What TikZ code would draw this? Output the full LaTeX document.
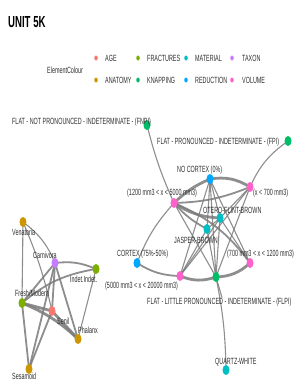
\documentclass[tikz,border=0pt]{standalone}
\usepackage{xcolor}
\usepackage{fontspec}
\newfontfamily\narrowsf[FakeStretch=0.6]{Liberation Sans}
\usepackage{tikz}
\usetikzlibrary{positioning,shapes.geometric}

\definecolor{cAge}{HTML}{F8766D}
\definecolor{cAnatomy}{HTML}{CD9600}
\definecolor{cFractures}{HTML}{7CAE00}
\definecolor{cKnapping}{HTML}{00BE67}
\definecolor{cMaterial}{HTML}{00BFC4}
\definecolor{cReduction}{HTML}{00A9FF}
\definecolor{cTaxon}{HTML}{C77CFF}
\definecolor{cVolume}{HTML}{FF61CC}
\definecolor{edgegray}{HTML}{7A7A7A}
\definecolor{labgray}{HTML}{2E2E2E}

\pgfdeclarelayer{bg}
\pgfsetlayers{bg,main}

\begin{document}
\begin{tikzpicture}[
  x=1pt, y=-1pt,
  dot/.style={ellipse, fill=#1, inner sep=0pt, minimum width=7pt, minimum height=10pt},
  key/.style={ellipse, fill=#1, inner sep=0pt, minimum width=3.5pt, minimum height=5pt},
  lab/.style={anchor=west, inner sep=0pt, text=labgray, font=\narrowsf\fontsize{9}{9}\selectfont},
  edge/.style={draw=edgegray, line width=1.1pt, opacity=0.85},
  medge/.style={draw=edgegray, line width=1.8pt, opacity=0.85},
  tedge/.style={draw=edgegray, line width=2.8pt, opacity=0.85}
]
\useasboundingbox (0,0) rectangle (305,386);

% title and legend
\node[anchor=west, inner sep=0pt, font=\narrowsf\bfseries\fontsize{16}{16}\selectfont] (title) at (8,22) {UNIT 5K};
\node[lab] (legtitle) at (47,70) {ElementColour};
\node[key=cAge] (kage) at (96,58) {};
\node[lab] (lage) at (105,58) {AGE};
\node[key=cFractures] (kfrac) at (138,58) {};
\node[lab] (lfrac) at (147,58) {FRACTURES};
\node[key=cMaterial] (kmat) at (186,58) {};
\node[lab] (lmat) at (195,58) {MATERIAL};
\node[key=cTaxon] (ktax) at (232,58) {};
\node[lab] (ltax) at (242,58) {TAXON};
\node[key=cAnatomy] (kana) at (96,80) {};
\node[lab] (lana) at (105,80) {ANATOMY};
\node[key=cKnapping] (kknap) at (138,80) {};
\node[lab] (lknap) at (147,80) {KNAPPING};
\node[key=cReduction] (kred) at (186,80) {};
\node[lab] (lred) at (195,80) {REDUCTION};
\node[key=cVolume] (kvol) at (232,80) {};
\node[lab] (lvol) at (242,80) {VOLUME};

% lithic network
\node[dot=cKnapping] (fnpi) at (147,125) {};
\node[dot=cKnapping] (fpi) at (288,141) {};
\node[dot=cReduction] (nocortex) at (210,179) {};
\node[dot=cVolume] (lt700) at (250,187) {};
\node[dot=cVolume] (v1200) at (174,203) {};
\node[dot=cMaterial] (otero) at (220,218) {};
\node[dot=cMaterial] (jasper) at (207,229) {};
\node[dot=cReduction] (cortex) at (137,263) {};
\node[dot=cVolume] (v700) at (250,263) {};
\node[dot=cVolume] (v5000) at (180,276) {};
\node[dot=cKnapping] (flpi) at (216,277) {};
\node[dot=cMaterial] (quartz) at (226,370) {};

\node[lab] (lfnpi) at (12,122) {FLAT - NOT PRONOUNCED - INDETERMINATE - (FNPI)};
\node[lab] (lfpi) at (157,142) {FLAT - PRONOUNCED - INDETERMINATE - (FPI)};
\node[lab] (lnocortex) at (177,170) {NO CORTEX (0\%)};
\node[lab] (llt700) at (253,193) {(x < 700 mm3)};
\node[lab] (lv1200) at (127,193) {(1200 mm3 < x < 5000 mm3)};
\node[lab] (lotero) at (203,210) {OTERO-FLINT-BROWN};
\node[lab] (ljasper) at (174,240) {JASPER-BROWN};
\node[lab] (lcortex) at (117,254) {CORTEX (75\%-50\%)};
\node[lab] (lv700) at (227,254) {(700 mm3 < x < 1200 mm3)};
\node[lab] (lv5000) at (105,286) {(5000 mm3 < x < 20000 mm3)};
\node[lab] (lflpi) at (147,302) {FLAT - LITTLE PRONOUNCED - INDETERMINATE - (FLPI)};
\node[lab] (lquartz) at (215,362) {QUARTZ-WHITE};

% faunal network
\node[dot=cAnatomy] (venatoria) at (23,222) {};
\node[dot=cTaxon] (carnivora) at (55,263) {};
\node[dot=cFractures] (indet) at (96,269) {};
\node[dot=cFractures] (fresh) at (22,303) {};
\node[dot=cAge] (senil) at (52,311) {};
\node[dot=cAnatomy] (phalanx) at (78,339) {};
\node[dot=cAnatomy] (sesamoid) at (29,369) {};

\node[lab] (lvenatoria) at (12,232) {Venatoria};
\node[lab] (lcarnivora) at (33,255) {Carnivora};
\node[lab] (lindet) at (70,279) {Indet.Indet.};
\node[lab] (lfresh) at (15,293) {Fresh/Modern};
\node[lab] (lsenil) at (57,321) {Senil};
\node[lab] (lphalanx) at (78,330) {Phalanx};
\node[lab] (lsesamoid) at (12,376) {Sesamoid};

\begin{pgfonlayer}{bg}
% lithic edges
\draw[edge] (fnpi.center) to[bend right=5] (v1200.center);
\draw[edge] (fpi.center) to[bend right=15] (lt700.center);
\draw[tedge] (nocortex.center) to[bend right=10] (v1200.center);
\draw[tedge] (nocortex.center) to[bend left=20] (lt700.center);
\draw[edge] (nocortex.center) -- (otero.center);
\draw[edge] (nocortex.center) -- (jasper.center);
\draw[edge] (nocortex.center) -- (flpi.center);
\draw[edge] (nocortex.center) -- (v5000.center);
\draw[edge] (nocortex.center) -- (v700.center);
\draw[tedge] (v1200.center) to[bend right=15] (otero.center);
\draw[medge] (v1200.center) to[bend right=10] (jasper.center);
\draw[edge] (v1200.center) to[bend right=10] (cortex.center);
\draw[edge] (v1200.center) -- (flpi.center);
\draw[medge] (v1200.center) to[bend left=15] (v700.center);
\draw[medge] (lt700.center) to[bend left=10] (v1200.center);
\draw[edge] (lt700.center) -- (otero.center);
\draw[edge] (lt700.center) -- (flpi.center);
\draw[edge] (lt700.center) -- (v5000.center);
\draw[edge] (otero.center) -- (jasper.center);
\draw[edge] (otero.center) -- (flpi.center);
\draw[edge] (otero.center) -- (v5000.center);
\draw[edge] (otero.center) -- (v700.center);
\draw[edge] (jasper.center) -- (flpi.center);
\draw[edge] (jasper.center) -- (v5000.center);
\draw[medge] (cortex.center) to[bend right=15] (v5000.center);
\draw[tedge] (v5000.center) to[bend right=20] (flpi.center);
\draw[tedge] (flpi.center) to[bend right=20] (v700.center);
\draw[edge] (flpi.center) to[bend left=5] (quartz.center);
\draw[edge] (flpi.center) -- (lflpi.north -| 222,0);
% faunal edges
\draw[edge] (venatoria.center) to[bend left=15] (carnivora.center);
\draw[edge] (venatoria.center) -- (fresh.center);
\draw[edge] (venatoria.center) to[bend left=5] (senil.center);
\draw[medge] (carnivora.center) to[bend left=15] (indet.center);
\draw[medge] (carnivora.center) -- (fresh.center);
\draw[medge] (carnivora.center) -- (senil.center);
\draw[medge] (carnivora.center) -- (phalanx.center);
\draw[medge] (carnivora.center) -- (sesamoid.center);
\draw[medge] (indet.center) to[bend right=15] (fresh.center);
\draw[edge] (indet.center) -- (phalanx.center);
\draw[tedge] (fresh.center) -- (senil.center);
\draw[tedge] (fresh.center) to[bend left=10] (phalanx.center);
\draw[medge] (fresh.center) -- (sesamoid.center);
\draw[tedge] (senil.center) -- (phalanx.center);
\draw[medge] (senil.center) -- (sesamoid.center);
\end{pgfonlayer}
\end{tikzpicture}
\end{document}
